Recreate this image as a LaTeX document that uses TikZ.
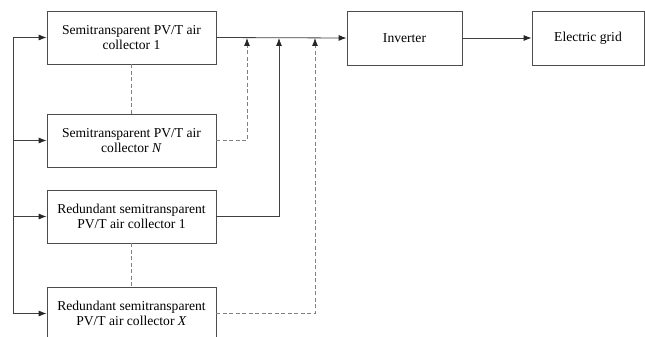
\documentclass[tikz,border=0pt]{standalone}
\usepackage{fontspec}
\setmainfont{Liberation Serif}
\usetikzlibrary{arrows.meta}

\begin{document}
\begin{tikzpicture}[x=1pt, y=-1pt,
  box/.style={draw=black!70, line width=0.8pt, align=center, inner sep=0pt,
    font=\fontsize{13.6}{15.5}\selectfont},
  link/.style={draw=black!75, line width=0.8pt},
  dlink/.style={draw=black!50, line width=0.8pt, dash pattern=on 4pt off 2.5pt},
  tip/.style={-{Latex[length=8pt,width=6pt,color=black!85]}}]
\useasboundingbox (0,0) rectangle (645,337);

\node[box, minimum width=169pt, minimum height=53pt] (S1) at (131.5,37.5) {Semitransparent PV/T air\\collector 1};
\node[box, minimum width=169pt, minimum height=53pt] (SN) at (131.5,140.5) {Semitransparent PV/T air\\collector \textit{N}};
\node[box, minimum width=169pt, minimum height=53pt] (R1) at (131.5,216.5) {Redundant semitransparent\\PV/T air collector 1};
\node[box, minimum width=169pt, minimum height=53pt] (RX) at (131.5,313.5) {Redundant semitransparent\\PV/T air collector \textit{X}};
\node[box, minimum width=115pt, minimum height=54pt] (inv) at (404.5,38) {Inverter};
\node[box, minimum width=112pt, minimum height=54pt] (grid) at (588,38) {Electric grid};

% supply side
\coordinate (L1) at (13,37.5);
\coordinate (L2) at (13,140.5);
\coordinate (L3) at (13,216.5);
\coordinate (L4) at (13,313.5);
\draw[link] (L1) -- (L4);
\draw[link, tip] (L1) -- (S1.west);
\draw[link, tip] (L2) -- (SN.west);
\draw[link, tip] (L3) -- (R1.west);
\draw[link, tip] (L4) -- (RX.west);

% collector groups
\draw[dlink] (S1.south) -- (SN.north);
\draw[dlink] (R1.south) -- (RX.north);

% output side
\coordinate (F1) at (247,38);
\coordinate (F2) at (279,38);
\coordinate (F3) at (315,38);
\draw[link, tip] (S1.east) -- (inv.west);
\draw[dlink, tip] (SN.east) -| (F1);
\draw[link, tip] (R1.east) -| (F2);
\draw[dlink, tip] (RX.east) -| (F3);
\draw[link, tip] (inv.east) -- (grid.west);
\end{tikzpicture}
\end{document}
